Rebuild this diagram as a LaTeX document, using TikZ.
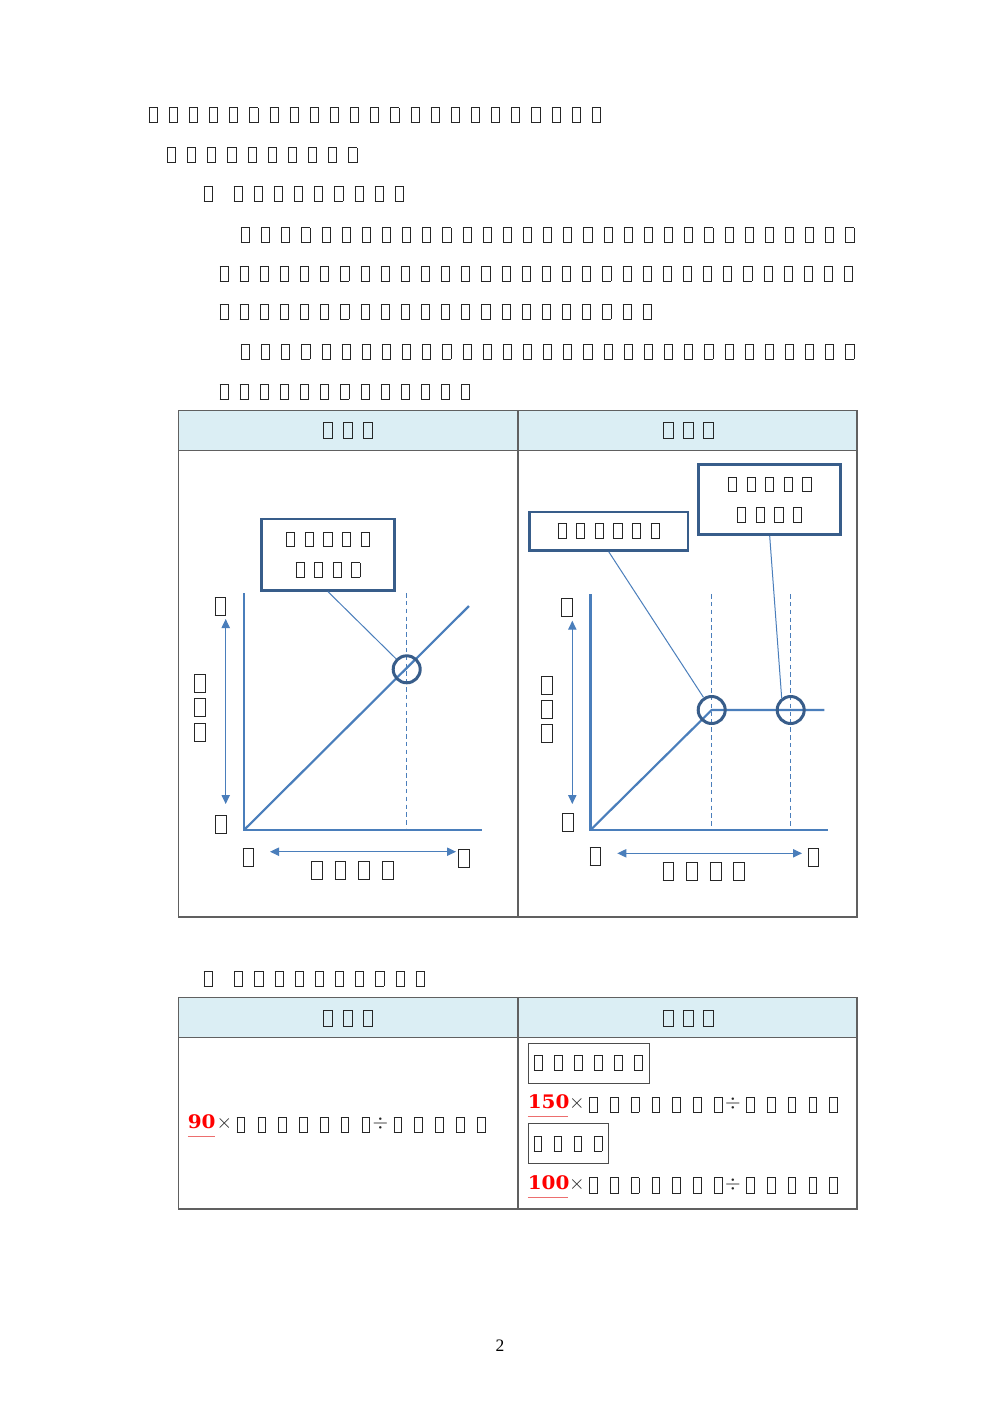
\documentclass[tikz,border=0pt]{standalone}
\usepackage{fontspec}
\newfontfamily\numfont{DejaVu Serif}
\newfontfamily\pagefont{Liberation Serif}
\usetikzlibrary{arrows.meta}
\tikzset{>={Triangle[length=5.4pt,width=5pt]}}

\definecolor{lineblue}{RGB}{74,126,187}
\definecolor{darkblue}{RGB}{56,93,138}
\definecolor{headfill}{RGB}{219,238,244}
\definecolor{rulegray}{RGB}{96,96,96}
\definecolor{markred}{RGB}{236,110,110}

% one pixel of the page, and the empty glyph boxes
\newlength\tfu \setlength\tfu{0.6pt}
\newlength\tfw \newlength\tfh \newlength\tfp \newlength\tfd
\newcommand\tfset[4]{\setlength\tfw{#1\tfu}\setlength\tfh{#2\tfu}\setlength\tfp{#3\tfu}\setlength\tfd{#4\tfu}}
\newcommand\tofubox{\raisebox{-\tfd}{\fboxsep=0pt\fboxrule=0.55pt\fbox{\rule{0pt}{\tfh}\rule{\tfw}{0pt}}}}
\newcommand\tofu{\makebox[\tfp][l]{\tofubox}}
\newcommand\tofus[1]{\ifnum#1>1 \foreach\k in {2,...,#1}{\tofu}\fi\tofubox}
\newcommand\redn[2]{\makebox[#1\tfu][l]{\textcolor{markred}{\rule[-9\tfu]{#1\tfu}{1.3\tfu}}\hspace*{-#1\tfu}\textcolor{red}{\numfont\bfseries\fontsize{11.2pt}{13pt}\selectfont\scalebox{1.07}[1]{#2}}}}
\newcommand\optimes{\makebox[21.4\tfu][l]{\hspace{1.2\tfu}$\times$}}
\newcommand\opdiv{\makebox[23.5\tfu][l]{\hspace{2.5\tfu}$\div$}}

\tikzset{
  txt/.style={inner sep=0pt, anchor=base west, text=black!85},
  body/.style={txt, font={\tfset{7.2}{14.2}{20.15}{0}}},
  head/.style={txt, anchor=base, font={\tfset{8.2}{15.2}{20}{0}}},
  lab/.style={txt, font={\tfset{9.9}{17.2}{23.6}{0}}},
  cell/.style={txt, font={\tfset{6.8}{14.1}{20.8}{3.5}\fontsize{12pt}{14pt}\selectfont}},
  tag/.style={draw=black!70, line width=0.6pt, inner sep=0pt, text=black!85,
    minimum height=40\tfu, font={\tfset{6.8}{14.1}{20.1}{3.5}}},
  callout/.style={draw=darkblue, line width=1.6pt, fill=white, inner sep=0pt,
    align=center, text=black!85, font={\tfset{7.2}{13.9}{18.6}{0}\fontsize{10pt}{18.3pt}\selectfont}},
  ring/.style={circle, draw=darkblue, line width=1.8pt, minimum size=27\tfu, inner sep=0pt},
  axis/.style={lineblue, line width=1.7pt},
  curve/.style={lineblue, line width=1.3pt},
  dashline/.style={lineblue, line width=0.6pt, dash pattern=on 2.7pt off 2pt},
  leader/.style={lineblue, line width=0.6pt},
  dim/.style={lineblue, line width=0.6pt, <->},
  grid/.style={rulegray, line width=0.8pt}
}

\begin{document}
\begin{tikzpicture}[x=\tfu, y=-\tfu]
\useasboundingbox (0,0) rectangle (1000,1415);
\fill[white] (0,0) rectangle (1000,1415);

% running text
\foreach \x/\y/\n [count=\i] in {148.3/123.3/23, 166.7/163.3/10, 203.3/202/1, 233.3/202/9,
    240.6/243.3/31, 219.2/281.7/32, 219.2/320/22, 240.6/360/31, 219.2/400/13,
    203.3/986.7/1, 234/986.7/10}
  \node[body] (line\i) at (\x,\y-1) {\tofus{\n}};

% first table
\fill[headfill] (178.5,410.5) rectangle (857,450.5);
\draw[grid] (178.5,410.5) rectangle (857,917);
\draw[grid] (178.5,450.5) -- (857,450.5);
\draw[grid] (518,410.5) -- (518,917);
\node[head] (hA) at (348.25,438.3) {\tofus{3}};
\node[head] (hB) at (688.5,438.3) {\tofus{3}};

% left chart
\coordinate (oA) at (244,830);
\draw[axis] (244,593) -- (oA) -- (482,830);
\draw[dashline] (406.7,593) -- (406.7,828);
\draw[curve] (oA) -- (469,606);
\node[callout, minimum width=133\tfu, minimum height=71.3\tfu] (kA) at (328,554.7) {\tofus{5}\\\tofus{4}};
\node[ring] (rA) at (406.7,669.3) {};
\draw[leader] (kA.south) -- (rA);
\draw[dim] (225.7,619) -- (225.7,804);
\draw[dim] (270,851.7) -- (456,851.7);
\foreach \x/\y/\n [count=\i] in {214.3/615.7/1, 215/834/1, 194/693/1, 194/717/1, 194/742/1,
    242.3/867/1, 458/868/1, 310.7/880/4}
  \node[lab] (labA\i) at (\x,\y-1) {\tofus{\n}};

% right chart
\coordinate (oB) at (590.5,830);
\coordinate (kneeB) at (711.7,710);
\draw[axis] (590.5,594) -- (oB) -- (828,830);
\draw[dashline] (711.7,594) -- (711.7,828);
\draw[dashline] (790.7,594) -- (790.7,828);
\draw[curve] (oB) -- (kneeB) -- (824.3,710);
\node[callout, minimum width=158.6\tfu, minimum height=38.3\tfu] (kB) at (608.7,531.2) {\tofus{6}};
\node[callout, minimum width=142\tfu, minimum height=70\tfu] (kC) at (769.7,499.7) {\tofus{5}\\\tofus{4}};
\node[ring] (rB) at (kneeB) {};
\node[ring] (rC) at (790.7,710) {};
\draw[leader] (kB.south) -- (rB);
\draw[leader] (kC.south) -- (rC.127);
\draw[dim] (572.3,620.7) -- (572.3,804);
\draw[dim] (617.3,853.3) -- (802,853.3);
\foreach \x/\y/\n [count=\i] in {560.7/617/1, 562/832/1, 541/695/1, 541/719/1, 541/742.7/1,
    589.3/865.7/1, 807.3/867/1, 662.3/880.7/4}
  \node[lab] (labB\i) at (\x,\y-1) {\tofus{\n}};

% second table
\fill[headfill] (178.5,997.3) rectangle (857,1037.5);
\draw[grid] (178.5,997.3) rectangle (857,1209);
\draw[grid] (178.5,1037.5) -- (857,1037.5);
\draw[grid] (518,997.3) -- (518,1209);
\node[head] (hC) at (348.25,1025.7) {\tofus{3}};
\node[head] (hD) at (688.5,1025.7) {\tofus{3}};
\node[cell] (fA) at (187.5,1128.3) {\redn{27.5}{90}\optimes\tofus{7}\opdiv\tofus{5}};
\node[tag, minimum width=121\tfu] (tA) at (588.5,1063.2) {\tofus{6}};
\node[cell] (fB) at (527.5,1108.3) {\redn{40}{150}\optimes\tofus{7}\opdiv\tofus{5}};
\node[tag, minimum width=80\tfu] (tB) at (568,1143.7) {\tofus{4}};
\node[cell] (fC) at (527.5,1189) {\redn{40}{100}\optimes\tofus{7}\opdiv\tofus{5}};

\node[anchor=base, inner sep=0pt, font=\pagefont\fontsize{10.5pt}{12pt}\selectfont] (page) at (500,1351) {2};
\end{tikzpicture}
\end{document}
